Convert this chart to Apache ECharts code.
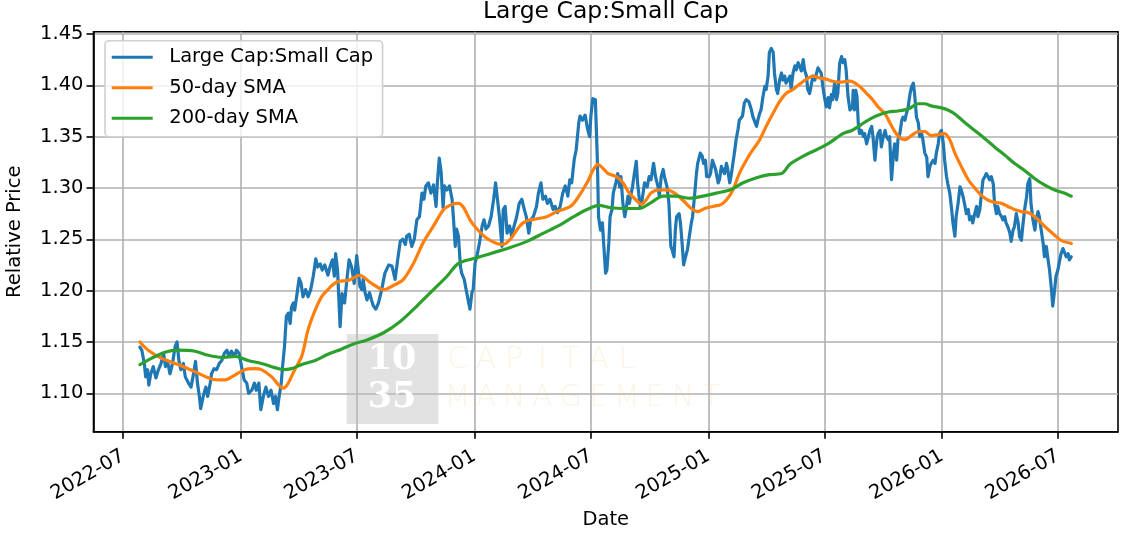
<!DOCTYPE html>
<html>
<head>
<meta charset="utf-8">
<title>Large Cap:Small Cap</title>
<script src="https://cdn.jsdelivr.net/npm/echarts@6/dist/echarts.min.js"></script>
<style>
  html, body { margin: 0; padding: 0; background: #fff; }
  #chart { width: 1126px; height: 544px; }
</style>
</head>
<body>
<div id="chart"></div>
<script>
// 数据: 天数 = 距 2022-07-01 的天数
const ratioDays = [
  26, 29, 33, 35, 38, 40, 43, 47, 51, 55,
  59, 63, 66, 69, 73, 77, 81, 84, 87, 90,
  94, 97, 102, 106, 109, 113, 116, 119, 121, 125,
  129, 132, 136, 138, 142, 146, 150, 154, 158, 162,
  165, 169, 174, 177, 181, 185, 189, 193, 196, 201,
  205, 208, 212, 215, 219, 223, 227, 231, 235, 238,
  241, 243, 247, 249, 252, 255, 258, 261, 263, 266,
  268, 271, 275, 278, 281, 285, 289, 293, 297, 301,
  304, 308, 311, 315, 320, 323, 327, 330, 332, 335,
  339, 342, 346, 349, 353, 357, 361,
  365, 368, 370, 373, 375, 378, 381, 385, 388, 391,
  395, 399, 404, 409, 415, 420, 425, 429, 433, 437,
  441, 443, 447, 451, 455, 459, 463, 467, 470, 473,
  477, 481, 485, 489, 491, 494, 497, 500, 502, 506,
  510, 514, 516, 519, 521, 524, 527, 529, 533, 536,
  540, 542, 545, 547, 550, 553, 557, 561, 564, 567,
  571, 575, 579, 582, 585, 588, 592, 594, 597, 600,
  604, 607, 611, 615, 619, 623, 627, 630, 634, 637,
  641, 646, 649, 653, 656, 660, 663, 667, 672, 675,
  679, 683, 687, 691, 695, 698, 701, 705, 708, 712,
  714, 718, 722, 726, 729, 731, 734, 738,
  741, 743, 746, 749, 751, 754, 756, 759, 761, 764,
  766, 770, 773, 776, 778, 781, 784, 786, 789, 791,
  796, 799, 802, 804, 808, 811, 815, 819, 822, 825,
  829, 832, 836, 838, 841, 844, 846, 850, 853, 856,
  858, 861, 863, 865, 869, 871, 874, 876, 879, 882,
  884, 888, 890, 893, 896, 898, 902, 905, 907, 910,
  912, 916, 918, 921, 923, 926, 930, 932, 935, 937,
  940, 943, 945, 948, 950, 953, 956, 958, 961, 963,
  968, 971, 974, 978, 982, 984, 987, 990, 992, 995,
  997, 1000, 1003, 1005, 1008, 1010, 1013, 1016, 1018, 1021,
  1023, 1026, 1029, 1031, 1034, 1036, 1039, 1042, 1044, 1047,
  1050, 1052, 1055, 1057, 1060, 1063, 1065, 1068, 1070, 1073,
  1076, 1078, 1081, 1083, 1086, 1089, 1091, 1094, 1096, 1099,
  1102, 1104, 1107, 1109, 1112, 1115, 1117, 1120, 1123, 1125,
  1128, 1130, 1133, 1136,
  1140, 1141, 1143, 1145, 1147, 1149, 1151, 1154, 1157, 1159,
  1162, 1165, 1167, 1170, 1172, 1175, 1178, 1180, 1183, 1185,
  1188, 1191, 1193, 1196, 1198, 1201, 1204, 1206, 1209, 1211,
  1214, 1217, 1219, 1222, 1224, 1227, 1230, 1232, 1235, 1237,
  1240, 1243, 1245, 1248, 1250, 1253, 1256, 1258, 1261, 1263,
  1266, 1269, 1271, 1274, 1276, 1279, 1282, 1284, 1287, 1289,
  1292, 1295, 1297, 1300, 1302, 1305, 1308, 1310, 1313, 1315,
  1318, 1321, 1323, 1326, 1328, 1331, 1334, 1336, 1339, 1341,
  1344, 1347, 1349, 1352, 1354, 1357, 1360, 1362, 1365, 1367,
  1370, 1373, 1375, 1378, 1380, 1383, 1386, 1388, 1391, 1393,
  1396, 1399, 1401, 1404, 1406, 1409, 1412, 1414, 1417, 1419,
  1422, 1425, 1427, 1430, 1432, 1435, 1438, 1440, 1443, 1445,
  1448, 1451, 1453, 1456, 1458, 1461, 1464, 1466, 1469, 1471,
  1474, 1477, 1479, 1482
];
const ratioValues = [
  1.145, 1.142, 1.129, 1.116, 1.123, 1.108, 1.119, 1.126, 1.115, 1.123,
  1.129, 1.139, 1.126, 1.132, 1.119, 1.129, 1.145, 1.150, 1.132, 1.123,
  1.129, 1.116, 1.110, 1.106, 1.116, 1.131, 1.110, 1.097, 1.085, 1.097,
  1.106, 1.097, 1.110, 1.119, 1.124, 1.123, 1.129, 1.132, 1.139, 1.142,
  1.136, 1.141, 1.136, 1.142, 1.139, 1.126, 1.113, 1.110, 1.100, 1.103,
  1.110, 1.103, 1.110, 1.084, 1.097, 1.106, 1.097, 1.103, 1.090, 1.097,
  1.084, 1.094, 1.110, 1.126, 1.145, 1.175, 1.178, 1.168, 1.184, 1.188,
  1.181, 1.194, 1.212, 1.207, 1.194, 1.201, 1.194, 1.201, 1.214, 1.231,
  1.223, 1.226, 1.220, 1.225, 1.215, 1.223, 1.230, 1.214, 1.236, 1.220,
  1.165, 1.197, 1.188, 1.207, 1.230, 1.223, 1.207,
  1.234, 1.235, 1.204, 1.201, 1.211, 1.198, 1.191, 1.198, 1.191, 1.185,
  1.182, 1.188, 1.201, 1.217, 1.225, 1.224, 1.211, 1.230, 1.248, 1.250,
  1.245, 1.253, 1.255, 1.243, 1.250, 1.269, 1.272, 1.295, 1.289, 1.302,
  1.305, 1.295, 1.303, 1.282, 1.305, 1.329, 1.315, 1.281, 1.302, 1.298,
  1.302, 1.289, 1.272, 1.243, 1.260, 1.253, 1.224, 1.217, 1.211, 1.201,
  1.188, 1.182, 1.198, 1.201, 1.227, 1.234, 1.247, 1.263, 1.269, 1.260,
  1.263, 1.272, 1.289, 1.305, 1.289, 1.272, 1.243, 1.279, 1.282, 1.256,
  1.263, 1.253, 1.263, 1.272, 1.285, 1.289, 1.279, 1.272, 1.256, 1.269,
  1.272, 1.282, 1.295, 1.305, 1.289, 1.292, 1.285, 1.289, 1.279, 1.282,
  1.276, 1.282, 1.295, 1.302, 1.292, 1.308, 1.305, 1.328, 1.337, 1.363,
  1.370, 1.366, 1.371, 1.357, 1.350, 1.370, 1.387, 1.386,
  1.330, 1.272, 1.259, 1.266, 1.246, 1.217, 1.220, 1.246, 1.272, 1.279,
  1.295, 1.305, 1.314, 1.301, 1.311, 1.285, 1.272, 1.279, 1.292, 1.285,
  1.301, 1.314, 1.326, 1.305, 1.282, 1.288, 1.305, 1.301, 1.311, 1.308,
  1.324, 1.311, 1.301, 1.292, 1.311, 1.318, 1.311, 1.301, 1.285, 1.243,
  1.240, 1.233, 1.259, 1.272, 1.275, 1.266, 1.243, 1.225, 1.233, 1.240,
  1.249, 1.266, 1.272, 1.292, 1.314, 1.324, 1.334, 1.331, 1.324, 1.327,
  1.311, 1.311, 1.314, 1.327, 1.327, 1.318, 1.305, 1.308, 1.321, 1.318,
  1.314, 1.324, 1.318, 1.305, 1.311, 1.324, 1.337, 1.347, 1.357, 1.366,
  1.370, 1.383, 1.386, 1.384, 1.376, 1.370, 1.370, 1.360, 1.366, 1.373,
  1.376, 1.389, 1.399, 1.396, 1.409, 1.432, 1.436, 1.432, 1.412, 1.396,
  1.392, 1.405, 1.412, 1.405, 1.409, 1.402, 1.405, 1.409, 1.397, 1.412,
  1.419, 1.415, 1.422, 1.419, 1.414, 1.425, 1.415, 1.409, 1.396, 1.392,
  1.402, 1.409, 1.405, 1.410, 1.417, 1.417, 1.412, 1.397, 1.389, 1.379,
  1.388, 1.378, 1.391, 1.386, 1.402, 1.386, 1.392, 1.422, 1.428, 1.422,
  1.425, 1.415, 1.389, 1.376,
  1.379, 1.395, 1.376, 1.395, 1.389, 1.363, 1.353, 1.356, 1.350, 1.353,
  1.343, 1.350, 1.356, 1.360, 1.350, 1.327, 1.347, 1.353, 1.356, 1.340,
  1.350, 1.356, 1.350, 1.347, 1.350, 1.308, 1.334, 1.343, 1.327, 1.347,
  1.353, 1.366, 1.369, 1.366, 1.372, 1.379, 1.392, 1.398, 1.402, 1.392,
  1.369, 1.363, 1.350, 1.353, 1.347, 1.334, 1.330, 1.311, 1.321, 1.324,
  1.327, 1.324, 1.334, 1.343, 1.353, 1.356, 1.343, 1.327, 1.311, 1.304,
  1.295, 1.279, 1.266, 1.253, 1.272, 1.285, 1.301, 1.298, 1.291, 1.285,
  1.275, 1.279, 1.269, 1.272, 1.266, 1.275, 1.282, 1.272, 1.279, 1.291,
  1.308, 1.311, 1.314, 1.311, 1.308, 1.311, 1.304, 1.285, 1.275, 1.282,
  1.275, 1.272, 1.269, 1.272, 1.266, 1.262, 1.256, 1.248, 1.259, 1.262,
  1.275, 1.266, 1.253, 1.249, 1.262, 1.279, 1.291, 1.304, 1.309, 1.285,
  1.269, 1.259, 1.269, 1.277, 1.272, 1.259, 1.246, 1.233, 1.243, 1.233,
  1.220, 1.201, 1.185, 1.201, 1.214, 1.220, 1.230, 1.236, 1.241, 1.240,
  1.233, 1.236, 1.230, 1.233
];

const sma50Days = [
  26, 39, 60, 86, 112, 138, 159, 175, 190, 206,
  216, 232, 243, 250, 258, 268, 279, 289, 300, 310,
  320, 326, 336, 352,
  370, 386, 407, 422, 438, 454, 469, 485, 501, 514,
  524, 532, 542, 553, 568, 584, 594, 605, 620, 631,
  647, 662, 678, 699, 709, 725, 735,
  742, 750, 758, 771, 781, 791, 802, 810, 817, 825,
  836, 849, 862, 875, 888, 898, 909, 922, 935, 945,
  953, 963, 974, 984, 995, 1005, 1016, 1026, 1036, 1047,
  1057, 1068, 1078, 1089, 1099, 1109, 1120,
  1136, 1149, 1159, 1170, 1180, 1191, 1198, 1206, 1214, 1222,
  1232, 1243, 1253, 1263, 1274, 1284, 1292, 1300, 1310, 1321,
  1331, 1341, 1352, 1362, 1373, 1383, 1393, 1404, 1414, 1425,
  1435, 1445, 1456, 1466, 1482
];
const sma50Values = [
  1.150, 1.142, 1.134, 1.128, 1.121, 1.114, 1.113, 1.118, 1.123, 1.124,
  1.123, 1.116, 1.108, 1.105, 1.110, 1.123, 1.136, 1.162, 1.181, 1.194,
  1.201, 1.205, 1.209, 1.210,
  1.215, 1.208, 1.201, 1.205, 1.211, 1.227, 1.247, 1.263, 1.279, 1.284,
  1.285, 1.281, 1.269, 1.260, 1.251, 1.246, 1.245, 1.250, 1.263, 1.268,
  1.270, 1.272, 1.277, 1.282, 1.289, 1.305, 1.318,
  1.323, 1.319, 1.314, 1.311, 1.305, 1.295, 1.288, 1.284, 1.288, 1.295,
  1.298, 1.298, 1.295, 1.288, 1.280, 1.277, 1.280, 1.282, 1.284, 1.290,
  1.298, 1.314, 1.327, 1.337, 1.347, 1.360, 1.373, 1.384, 1.392, 1.396,
  1.401, 1.406, 1.409, 1.407, 1.406, 1.404, 1.403,
  1.404, 1.400, 1.394, 1.387, 1.379, 1.372, 1.364, 1.355, 1.349, 1.347,
  1.351, 1.355, 1.355, 1.351, 1.352, 1.353, 1.347, 1.334, 1.321, 1.308,
  1.300, 1.293, 1.288, 1.286, 1.285, 1.282, 1.279, 1.277, 1.276, 1.272,
  1.266, 1.260, 1.254, 1.249, 1.246
];

const sma200Days = [
  26, 44, 65, 86, 112, 133, 154, 175, 195, 216,
  237, 250, 263, 279, 300, 320, 341,
  360, 381, 407, 433, 459, 485, 506, 521, 534, 547,
  563, 584, 605, 631, 657, 683, 704, 725,
  744, 760, 781, 807, 823, 844, 864, 885, 906, 927,
  948, 969, 990, 1010, 1029, 1042, 1063, 1083, 1104, 1125,
  1139, 1154, 1170, 1185, 1196, 1211, 1227, 1243, 1253, 1263,
  1279, 1289, 1300, 1315, 1331, 1347, 1362, 1378, 1393, 1409,
  1425, 1440, 1456, 1471, 1482
];
const sma200Values = [
  1.128, 1.134, 1.140, 1.142, 1.141, 1.137, 1.135, 1.136, 1.132, 1.129,
  1.125, 1.123, 1.124, 1.128, 1.132, 1.138, 1.143,
  1.148, 1.152, 1.159, 1.170, 1.185, 1.201, 1.214, 1.225, 1.229, 1.231,
  1.234, 1.238, 1.242, 1.248, 1.256, 1.264, 1.272, 1.279,
  1.283, 1.281, 1.280, 1.280, 1.285, 1.292, 1.292, 1.290, 1.292, 1.295,
  1.298, 1.305, 1.310, 1.313, 1.314, 1.323, 1.331, 1.337, 1.344, 1.353,
  1.356, 1.362, 1.368, 1.372, 1.374, 1.375, 1.377, 1.382, 1.382, 1.380,
  1.378, 1.376, 1.372, 1.364, 1.356, 1.348, 1.340, 1.332, 1.324, 1.317,
  1.309, 1.303, 1.298, 1.295, 1.292
];

const xTickLabels = ['2022-07', '2023-01', '2023-07', '2024-01', '2024-07', '2025-01', '2025-07', '2026-01', '2026-07'];
const yTickValues = [1.10, 1.15, 1.20, 1.25, 1.30, 1.35, 1.40, 1.45];

const SERIES_NAMES = ['Large Cap:Small Cap', '50-day SMA', '200-day SMA'];
const COLORS = ['#1f77b4', '#ff7f0e', '#2ca02c'];
const FONT = "'DejaVu Sans', sans-serif";
const DAY = 86400000;
const BASE = Date.UTC(2022, 6, 1);

function toTime(day) {
  return BASE + day * DAY;
}

function monthToTime(label) {
  const parts = label.split('-').map(Number);
  return Date.UTC(parts[0], parts[1] - 1, 1);
}

function pairs(days, values) {
  return days.map((d, i) => [toTime(d), values[i]]);
}

function lineSeries(name, data, color, smooth) {
  return {
    name: name,
    type: 'line',
    data: data,
    symbol: 'none',
    smooth: smooth,
    lineStyle: { width: 3.2, color: color, join: 'round', cap: 'round' },
    itemStyle: { color: color }
  };
}

// 水印 (10 35 CAPITAL MANAGEMENT)
function watermark() {
  const els = [
    { type: 'rect', z: 1, shape: { x: 346.7, y: 334, width: 91.6, height: 90 },
      style: { fill: 'rgba(190,190,190,0.45)' } },
    { type: 'text', z: 1, x: 392, y: 360,
      style: { text: '10', fill: '#fff', font: "bold 35px 'DejaVu Serif', serif", align: 'center', verticalAlign: 'middle' } },
    { type: 'text', z: 1, x: 392, y: 398,
      style: { text: '35', fill: '#fff', font: "bold 35px 'DejaVu Serif', serif", align: 'center', verticalAlign: 'middle' } }
  ];
  [['CAPITAL', 360], ['MANAGEMENT', 398]].forEach(([word, y]) => {
    word.split('').forEach((ch, i) => {
      els.push({ type: 'text', z: 1, x: 457.7 + i * 28.2, y: y,
        style: { text: ch, fill: 'rgba(240,200,120,0.2)', font: "200 30px " + FONT, align: 'center', verticalAlign: 'middle' } });
    });
  });
  return els;
}

function renderChart() {
  const chart = echarts.init(document.getElementById('chart'));
  const xTicks = xTickLabels.map(monthToTime);
  const labelStyle = { color: '#000', fontFamily: FONT, fontSize: 19.5 };

  chart.setOption({
    animation: false,
    backgroundColor: '#fff',
    grid: {
      left: 93.5, right: 8, top: 31.7, bottom: 112.3,
      show: true, borderColor: '#000', borderWidth: 1.6, backgroundColor: 'transparent'
    },
    legend: {
      orient: 'vertical',
      left: 105, top: 40.7,
      padding: [6.6, 9.4, 8.4, 6.7],
      icon: 'rect',
      itemWidth: 41, itemHeight: 3, itemGap: 10.5,
      backgroundColor: 'rgba(255,255,255,0.8)',
      borderColor: '#d0d0d0', borderWidth: 1.6, borderRadius: 4,
      textStyle: Object.assign({ lineHeight: 20, padding: [0, 0, 0, 11.6] }, labelStyle),
      data: SERIES_NAMES
    },
    // 日期轴: 数值为时间戳, 刻度固定在 1 月 / 7 月
    xAxis: {
      type: 'value',
      min: toTime(-46.5),
      max: toTime(1555),
      axisLine: { show: true, onZero: false, lineStyle: { color: '#000', width: 1.6 } },
      axisTick: { show: true, length: 7, lineStyle: { color: '#000', width: 1.6 }, customValues: xTicks },
      axisLabel: Object.assign({
        customValues: xTicks,
        rotate: 30,
        margin: 23,
        formatter: v => new Date(v).toISOString().slice(0, 7)
      }, labelStyle),
      splitLine: { show: true, lineStyle: { color: '#b0b0b0', width: 1.6 } }
    },
    yAxis: {
      type: 'value',
      min: 1.0626,
      max: 1.4522,
      axisLine: { show: true, onZero: false, lineStyle: { color: '#000', width: 1.6 } },
      axisTick: { show: true, length: 7, lineStyle: { color: '#000', width: 1.6 }, customValues: yTickValues },
      axisLabel: Object.assign({
        customValues: yTickValues,
        margin: 10,
        formatter: v => v.toFixed(2)
      }, labelStyle),
      splitLine: { show: true, lineStyle: { color: '#b0b0b0', width: 1.6 } }
    },
    graphic: watermark().concat([
      { type: 'text', z: 1, x: 605.8, y: 12,
        style: { text: 'Large Cap:Small Cap', fill: '#000', font: '23.5px ' + FONT, align: 'center', verticalAlign: 'middle' } },
      { type: 'text', z: 1, x: 605.8, y: 520,
        style: { text: 'Date', fill: '#000', font: '19.5px ' + FONT, align: 'center', verticalAlign: 'middle' } },
      { type: 'text', z: 1, x: 14.5, y: 231.7, rotation: Math.PI / 2,
        style: { text: 'Relative Price', fill: '#000', font: '19.5px ' + FONT, align: 'center', verticalAlign: 'middle' } }
    ]),
    series: [
      lineSeries(SERIES_NAMES[0], pairs(ratioDays, ratioValues), COLORS[0], false),
      lineSeries(SERIES_NAMES[1], pairs(sma50Days, sma50Values), COLORS[1], 0.3),
      lineSeries(SERIES_NAMES[2], pairs(sma200Days, sma200Values), COLORS[2], 0.3)
    ]
  });

  window.mainChart = chart;
}

document.addEventListener('DOMContentLoaded', renderChart);
</script>
</body>
</html>
